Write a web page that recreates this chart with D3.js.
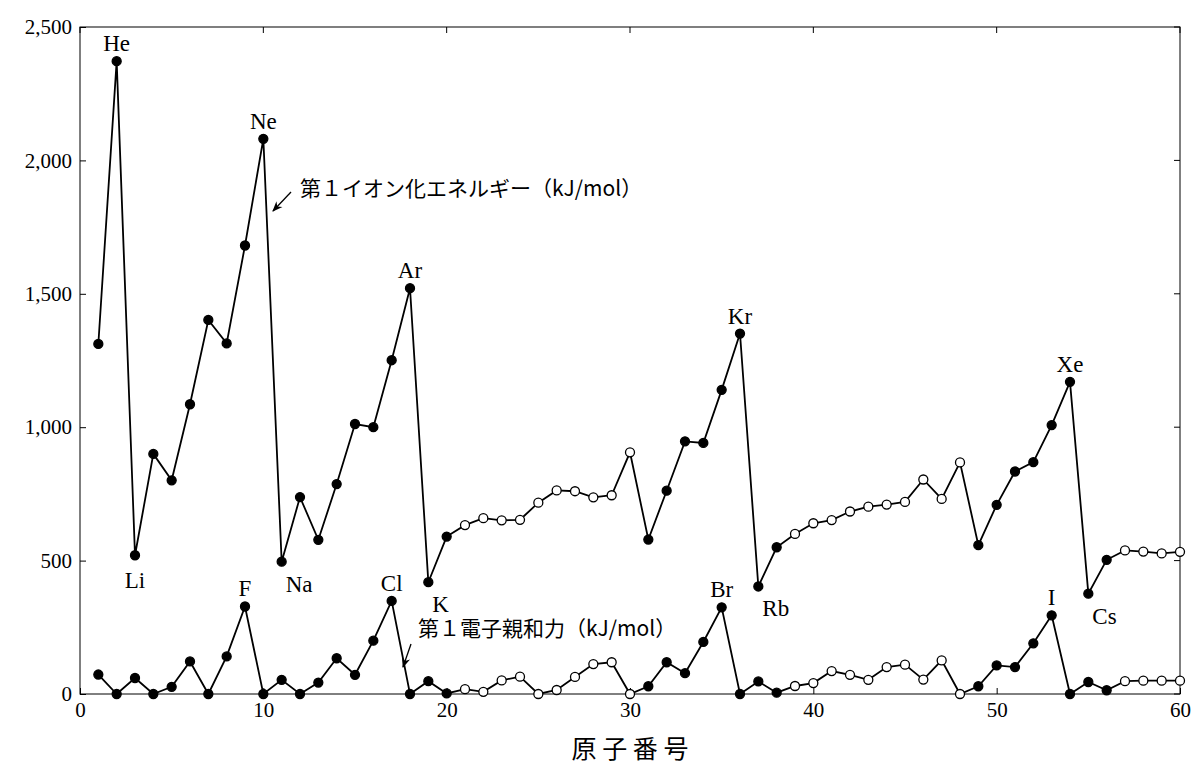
<!DOCTYPE html>
<html><head><meta charset="utf-8">
<script src="https://cdn.jsdelivr.net/npm/d3@7"></script>
<style>body{margin:0;background:#fff}text{font-family:"Liberation Serif",serif}</style>
</head><body><svg id="c" width="1199" height="773"></svg>
<script>
// ionization energy, atomic numbers 1..60
const IONIZATION = [1312,2372,520,900,801,1086,1402,1314,1681,2081,496,738,578,787,1012,1000,1251,1521,419,590,
  633,659,651,653,717,763,760,737,745,906,579,762,947,941,1140,1351,403,550,600,640,
  652,684,702,710,720,804,731,868,558,709,834,869,1008,1170,376,503,538,534,527,533];
const AFFINITY = [73,0,60,0,27,122,0,141,328,0,53,0,43,134,72,200,349,0,48,2,
  18,8,51,65,0,15,64,112,119,0,29,119,78,195,325,0,47,5,30,41,
  86,72,53,101,110,54,126,0,29,107,101,190,295,0,45,14,48,50,50,50];
const OPEN = new Set([21,22,23,24,25,26,27,28,29,30,39,40,41,42,43,44,45,46,47,48,57,58,59,60]);
const ION_LABELS = [[2,"He","top"],[3,"Li","bot"],[10,"Ne","top"],[11,"Na","br"],[18,"Ar","top"],[19,"K","br"],
  [36,"Kr","top"],[37,"Rb","br"],[54,"Xe","top"],[55,"Cs","br"]];
const EA_LABELS = [[9,"F"],[17,"Cl"],[35,"Br"],[53,"I"]];
const Y_TICKS = [0,500,1000,1500,2000,2500];
const X_TICKS = [0,10,20,30,40,50,60];

const M = {left: 80, right: 19, top: 27, bottom: 79};
const W = 1199 - M.left - M.right, H = 773 - M.top - M.bottom;
const svg = d3.select("#c");
const g = svg.append("g").attr("transform", `translate(${M.left},${M.top})`);
const x = d3.scaleLinear().domain([0,60]).range([0,W]);
const y = d3.scaleLinear().domain([0,2500]).range([H,0]);
const fmt = d3.format(",");

g.append("rect").attr("width",W).attr("height",H).attr("fill","none").attr("stroke","#000").attr("stroke-width",1);
g.append("g").attr("transform",`translate(0,${H})`)
  .call(d3.axisBottom(x).tickValues(X_TICKS).tickSizeInner(-6).tickSizeOuter(0).tickPadding(8))
  .call(a => { a.select(".domain").remove(); a.selectAll("text").style("font-size","21px").style("font-family","'Liberation Serif',serif"); });
g.append("g")
  .call(d3.axisLeft(y).tickValues(Y_TICKS).tickFormat(fmt).tickSizeInner(-6).tickSizeOuter(0).tickPadding(8))
  .call(a => { a.select(".domain").remove(); a.selectAll("text").style("font-size","21px").style("font-family","'Liberation Serif',serif"); });
// tick marks on top and right
g.append("g").selectAll("line").data(X_TICKS).join("line")
  .attr("x1",d=>x(d)).attr("x2",d=>x(d)).attr("y1",0).attr("y2",6).attr("stroke","#000");
g.append("g").selectAll("line").data(Y_TICKS).join("line")
  .attr("x1",W).attr("x2",W-6).attr("y1",d=>y(d)).attr("y2",d=>y(d)).attr("stroke","#000");

const line = d3.line().x((d,i)=>x(i+1)).y(d=>y(d));
function series(vals){
  g.append("path").datum(vals).attr("d",line).attr("fill","none").attr("stroke","#000").attr("stroke-width",1.8);
  g.append("g").selectAll("circle").data(vals).join("circle")
    .attr("cx",(d,i)=>x(i+1)).attr("cy",d=>y(d)).attr("r",4.5)
    .attr("fill",(d,i)=>OPEN.has(i+1)?"#fff":"#000").attr("stroke","#000").attr("stroke-width",1.3);
}
series(IONIZATION);
series(AFFINITY);

const lab = g.append("g").style("font-size","23px");
ION_LABELS.forEach(([n,t,p]) => {
  const px = x(n), py = y(IONIZATION[n-1]);
  const el = lab.append("text").text(t);
  if (p==="top") el.attr("x",px).attr("y",py-10).attr("text-anchor","middle");
  else if (p==="bot") el.attr("x",px).attr("y",py+33).attr("text-anchor","middle");
  else el.attr("x",px+4).attr("y",py+30).attr("text-anchor","start");
});
EA_LABELS.forEach(([n,t]) => {
  lab.append("text").text(t).attr("x",x(n)).attr("y",y(AFFINITY[n-1])-10).attr("text-anchor","middle");
});

svg.append("defs").append("marker").attr("id","ah").attr("viewBox","0 0 10 10").attr("refX",9).attr("refY",5)
  .attr("markerWidth",8).attr("markerHeight",8).attr("orient","auto")
  .append("path").attr("d","M0,1 L10,5 L0,9 L3,5 Z").attr("fill","#000");
function note(txt, tx, ty, x1, y1, x2, y2){
  svg.append("text").text(txt).attr("x",tx).attr("y",ty).style("font-size","21px")
    .style("font-family","'Noto Sans CJK JP',sans-serif");
  svg.append("line").attr("x1",x1).attr("y1",y1).attr("x2",x2).attr("y2",y2)
    .attr("stroke","#000").attr("stroke-width",1.3).attr("marker-end","url(#ah)");
}
note("第１イオン化エネルギー（kJ/mol）", 300, 196, 291, 192, 273, 211);
note("第１電子親和力（kJ/mol）", 418, 636, 411, 644, 403, 667);

svg.append("text").text("原 子 番 号").attr("x",M.left+W/2).attr("y",758).attr("text-anchor","middle")
  .style("font-size","25px").style("font-family","'Noto Sans CJK JP',sans-serif");
</script></body></html>
